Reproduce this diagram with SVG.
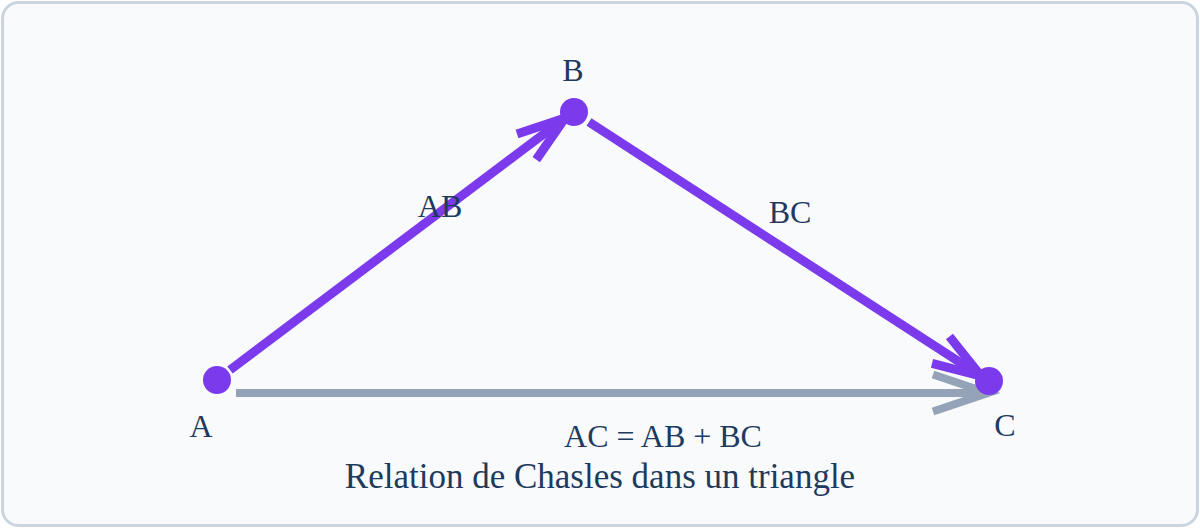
<svg xmlns="http://www.w3.org/2000/svg" width="1200" height="528" viewBox="0 0 1200 528">
  <defs>
    <marker id="headPurple" markerUnits="userSpaceOnUse" orient="auto" markerWidth="80" markerHeight="60" refX="60" refY="30" viewBox="0 0 80 60" overflow="visible">
      <path d="M12,14 L60,30 L12,46" fill="none" stroke="#7c3aed" stroke-width="9" stroke-linejoin="miter"/>
    </marker>
    <marker id="headGray" markerUnits="userSpaceOnUse" orient="auto" markerWidth="80" markerHeight="60" refX="60" refY="30" viewBox="0 0 80 60" overflow="visible">
      <path d="M5,11.5 L60,30 L5,48.5" fill="none" stroke="#94a3b8" stroke-width="8" stroke-linejoin="miter"/>
    </marker>
  </defs>
  <style>
    .frame { fill: #f8fafc; stroke: #cbd5e1; stroke-width: 3; }
    .vec { fill: none; stroke: #7c3aed; stroke-width: 9; stroke-linecap: butt; }
    .sum { fill: none; stroke: #94a3b8; stroke-width: 8; stroke-linecap: butt; }
    .dot { fill: #7c3aed; }
    .lbl { font-family: "Liberation Serif", "Times New Roman", serif; font-size: 32px; fill: #1e3a5f; text-anchor: middle; }
    .title { font-family: "Liberation Serif", "Times New Roman", serif; font-size: 35px; fill: #1e3a5f; text-anchor: middle; }
  </style>
  <rect class="frame" x="2.5" y="2.5" width="1195" height="523" rx="16" ry="16"/>

  <g id="connectors">
    <line id="vec-AB" class="vec" x1="230" y1="370" x2="565" y2="118" marker-end="url(#headPurple)"/>
    <line id="vec-BC" class="vec" x1="589" y1="122" x2="981" y2="376" marker-end="url(#headPurple)"/>
    <line id="vec-AC" class="sum" x1="236" y1="393" x2="988" y2="393" marker-end="url(#headGray)"/>
  </g>

  <g id="node-A">
    <circle class="dot" cx="217" cy="380" r="14"/>
    <text class="lbl" x="201" y="437">A</text>
  </g>
  <g id="node-B">
    <circle class="dot" cx="574" cy="112" r="14"/>
    <text class="lbl" x="573" y="81">B</text>
  </g>
  <g id="node-C">
    <circle class="dot" cx="989" cy="381" r="14"/>
    <text class="lbl" x="1005" y="436">C</text>
  </g>

  <g id="labels">
    <text class="lbl" x="440" y="217">AB</text>
    <text class="lbl" x="790" y="223">BC</text>
    <text class="lbl" x="663" y="447">AC = AB + BC</text>
    <text class="title" x="600" y="488">Relation de Chasles dans un triangle</text>
  </g>
</svg>
